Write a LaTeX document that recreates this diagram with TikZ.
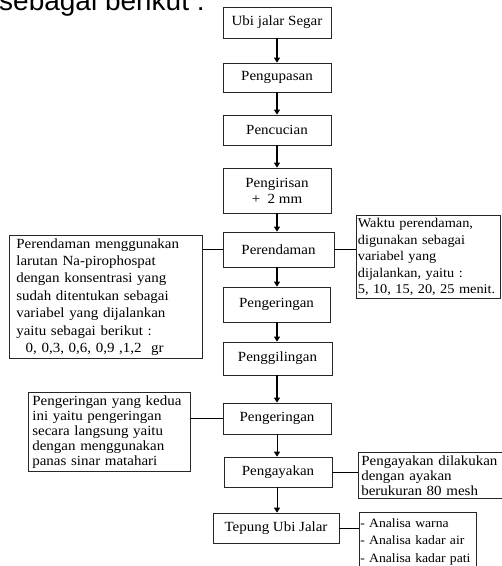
\documentclass[tikz,border=0pt]{standalone}
\usepackage{fontspec}
\setmainfont{Liberation Serif}[FakeStretch=1.07]
\newfontfamily\headfont{Liberation Sans}
\usetikzlibrary{arrows.meta}

\begin{document}
\begin{tikzpicture}[x=1pt, y=-1pt, font=\fontsize{14}{16.5}\selectfont,
			stepbox/.style={draw=black!85, line width=0.7pt, minimum width=108pt, minimum height=31pt, align=center, inner sep=2pt},
			note/.style={draw=black!85, line width=0.7pt, anchor=north west, align=left, inner xsep=3pt, inner ysep=3pt},
			flow/.style={-{Triangle[length=5pt,width=6pt]}, line width=1.3pt},
			thinflow/.style={flow, line width=0.7pt},
			link/.style={line width=0.6pt}]

			\useasboundingbox (0,0) rectangle (502,566);
			\node[anchor=base west, inner sep=0pt, font=\headfont\fontsize{28}{30}\selectfont] (judul) at (-1,10) {sebagai berikut :};

			\node[stepbox] (ubi) at (277,22.5) {Ubi jalar Segar};
			\node[stepbox, minimum height=29pt] (kupas) at (277,77.5) {Pengupasan};
			\node[stepbox, minimum height=30pt] (cuci) at (277,130) {Pencucian};
			\node[stepbox, minimum height=45pt, font=\fontsize{14}{16}\selectfont] (iris) at (277,190.5) {Pengirisan\\+\ \ 2 mm};
			\node[stepbox, minimum width=111pt, minimum height=35pt] (rendam) at (278.5,249.5) {Perendaman};
			\node[stepbox, minimum width=107pt, minimum height=35pt] (kering) at (276.5,304.5) {Pengeringan};
			\node[stepbox, minimum width=109pt, minimum height=33pt] (giling) at (277.5,358.5) {Penggilingan};
			\node[stepbox] (keringdua) at (277,418.5) {Pengeringan};
			\node[stepbox, minimum height=30pt] (ayak) at (278,472) {Pengayakan};
			\node[stepbox, minimum width=126pt, minimum height=30pt] (tepung) at (276,528) {Tepung Ubi Jalar};

			\node[note, inner xsep=7pt, text width=179pt, font=\fontsize{14}{17.4}\selectfont] (ketrendam) at (9,235) {Perendaman menggunakan\\larutan Na-pirophospat\\dengan konsentrasi yang\\sudah ditentukan sebagai\\variabel yang dijalankan\\yaitu sebagai berikut :\\\ \ 0, 0,3, 0,6, 0,9 ,1,2 \ gr};
			\node[note, inner xsep=1.5pt, text width=141pt, font=\fontsize{13.4}{16.5}\selectfont] (ketwaktu) at (356,215) {Waktu perendaman,\\digunakan sebagai\\variabel yang\\dijalankan, yaitu :\\\mbox{5, 10, 15, 20, 25 menit.}};
			\node[note, inner xsep=4pt, text width=154pt, font=\fontsize{14}{15}\selectfont] (ketkering) at (28,392) {Pengeringan yang kedua\\ini yaitu pengeringan\\secara langsung yaitu\\dengan menggunakan\\panas sinar matahari};
			\node[note, text width=146pt, font=\fontsize{14}{15}\selectfont] (ketayak) at (358,452) {Pengayakan dilakukan\\dengan ayakan\\berukuran 80 mesh};
			\node[note, inner xsep=1pt, inner ysep=6pt, text width=115pt, font=\fontsize{12.8}{17.5}\selectfont] (analisa) at (359,512) {- Analisa warna\\- Analisa kadar air\\\mbox{- Analisa kadar pati}};

			\draw[flow] (ubi.south) -- (ubi.south |- kupas.north);
			\draw[flow] (kupas.south) -- (kupas.south |- cuci.north);
			\draw[flow] (cuci.south) -- (cuci.south |- iris.north);
			\draw[flow] (iris.south) -- (iris.south |- rendam.north);
			\draw[flow] (rendam.south -| iris.south) -- (iris.south |- kering.north);
			\draw[flow] (kering.south -| iris.south) -- (iris.south |- giling.north);
			\draw[flow] (giling.south -| iris.south) -- (iris.south |- keringdua.north);
			\draw[thinflow] (keringdua.south) -- (keringdua.south |- ayak.north);
			\draw[thinflow] (ayak.south -| keringdua.south) -- (keringdua.south |- tepung.north);

			\draw[link] (rendam.west) -- (rendam.west -| ketrendam.east);
			\draw[link] (rendam.east) -- (rendam.east -| ketwaktu.west);
			\draw[line width=1.2pt] (keringdua.west) -- (keringdua.west -| ketkering.east);
			\draw[link] (ayak.east) -- (ayak.east -| ketayak.west);
			\draw[link] (tepung.east) -- (tepung.east -| analisa.west);
		\end{tikzpicture}
\end{document}
